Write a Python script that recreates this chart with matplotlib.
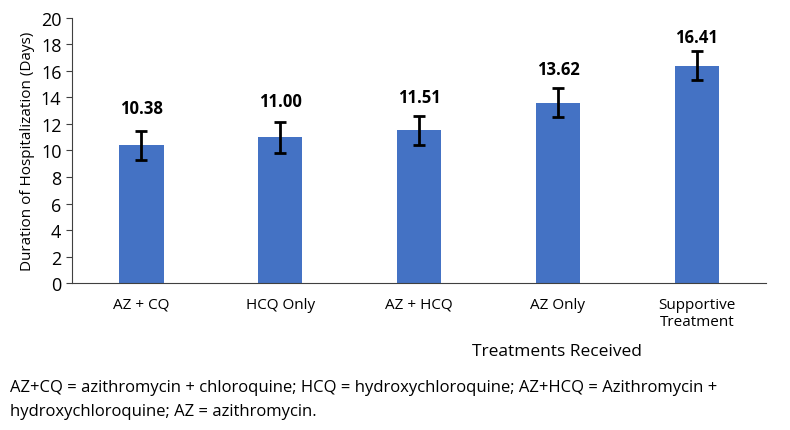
import numpy as np
import matplotlib.pyplot as plt

plt.rcParams['font.family'] = ['Open Sans', 'DejaVu Sans']

treatments = ['AZ + CQ', 'HCQ Only', 'AZ + HCQ', 'AZ Only', 'Supportive\nTreatment']
days = [10.38, 11.00, 11.51, 13.62, 16.41]
err = [1.1, 1.17, 1.1, 1.12, 1.1]
labels = ['10.38', '11.00', '11.51', '13.62', '16.41']

# label heights above bar tops, as placed in the source figure
label_gap = [2.8, 2.74, 2.53, 2.53, 2.16]

fig = plt.figure(figsize=(7.9, 4.31), dpi=100)
ax = fig.add_axes([0.091, 0.341, 0.879, 0.615])

x = np.arange(len(treatments))
ax.bar(x, days, width=0.32, color='#4472C4', yerr=err,
       error_kw=dict(ecolor='black', elinewidth=2, capsize=4, capthick=2))

for xi, d, g, lab in zip(x, days, label_gap, labels):
    ax.text(xi, d + g, lab, ha='center', va='center',
            fontsize=12, fontweight='bold')

ax.set_xlim(-0.5, len(treatments) - 0.5)
ax.set_ylim(0, 20)
ax.set_yticks(range(0, 21, 2))
ax.set_xticks(x)
ax.set_xticklabels(treatments, fontsize=11)
ax.tick_params(axis='x', length=0, pad=10)
ax.tick_params(axis='y', labelsize=13, length=4, color='#404040')
ax.set_ylabel('Duration of Hospitalization (Days)', fontsize=11)
for s in ['top', 'right']:
    ax.spines[s].set_visible(False)
ax.spines['left'].set_color('#404040')
ax.spines['bottom'].set_color('#404040')

fig.text(0.705, 0.183, 'Treatments Received', ha='center', va='center', fontsize=12.5)
fig.text(0.013, 0.1, 'AZ+CQ = azithromycin + chloroquine; HCQ = hydroxychloroquine; AZ+HCQ = Azithromycin +',
         fontsize=12, va='center')
fig.text(0.013, 0.044, 'hydroxychloroquine; AZ = azithromycin.', fontsize=12, va='center')

fig.savefig('out.png', dpi=100)
